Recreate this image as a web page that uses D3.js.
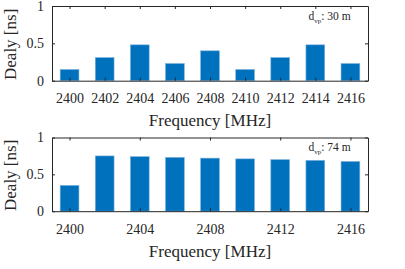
<!DOCTYPE html>
<html>
<head>
<meta charset="utf-8">
<script src="https://cdn.jsdelivr.net/npm/d3@7"></script>
<style>
  body { margin: 0; background: #fff; }
</style>
</head>
<body>
<svg id="chart" width="405" height="269"></svg>
<script>
let frequencies = [2400, 2402, 2404, 2406, 2408, 2410, 2412, 2414, 2416];
let delay_30m = [0.15, 0.31, 0.48, 0.23, 0.40, 0.15, 0.31, 0.48, 0.23];
let delay_74m = [0.35, 0.75, 0.74, 0.73, 0.72, 0.71, 0.70, 0.69, 0.675];
let ticks_top = [2400, 2402, 2404, 2406, 2408, 2410, 2412, 2414, 2416];
let ticks_bottom = [2400, 2404, 2408, 2412, 2416];
let y_ticks = [0, 0.5, 1];

let serif = "Liberation Serif";
let svg = d3.select("#chart")
  .attr("font-family", serif);

let box = { left: 52, right: 368 };

function style_axis(sel) {
  sel.attr("font-family", serif)
    .attr("font-size", 14);
  sel.selectAll("text").attr("fill", "#262626");
  sel.select("path").attr("stroke", "#262626");
  sel.selectAll("line").attr("stroke", "#262626");
}

function draw_panel(top, bottom, values, x_ticks, distance) {
  let x = d3.scaleLinear().domain([2399, 2417]).range([box.left, box.right]);
  let y = d3.scaleLinear().domain([0, 1]).range([bottom, top]);
  let bar_w = x(2401.07) - x(2400);

  let g = svg.append("g");

  g.selectAll("rect")
    .data(values)
    .enter()
    .append("rect")
    .attr("x", (d, i) => x(frequencies[i]) - bar_w / 2)
    .attr("y", d => y(d))
    .attr("width", bar_w)
    .attr("height", d => y(0) - y(d))
    .attr("fill", "#0072BD")
    .attr("stroke", "#7fb2de")
    .attr("stroke-width", 0.6);

  // axes, ticks inward like matlab
  g.append("g")
    .attr("transform", "translate(0," + bottom + ")")
    .call(d3.axisBottom(x).tickValues(x_ticks).tickSize(-3).tickPadding(12.7).tickSizeOuter(0).tickFormat(d3.format("d")))
    .call(style_axis);
  g.append("g")
    .attr("transform", "translate(0," + top + ")")
    .call(d3.axisTop(x).tickValues(x_ticks).tickSize(-3).tickSizeOuter(0).tickFormat(""))
    .call(style_axis);
  g.append("g")
    .attr("transform", "translate(" + box.left + ",0)")
    .call(d3.axisLeft(y).tickValues(y_ticks).tickSize(-3).tickPadding(8).tickSizeOuter(0).tickFormat(d3.format("")))
    .call(style_axis);
  g.append("g")
    .attr("transform", "translate(" + box.right + ",0)")
    .call(d3.axisRight(y).tickValues(y_ticks).tickSize(-3).tickSizeOuter(0).tickFormat(""))
    .call(style_axis);

  g.append("text")
    .attr("x", (box.left + box.right) / 2)
    .attr("y", bottom + 45.5)
    .attr("text-anchor", "middle")
    .attr("font-size", 17)
    .attr("fill", "#262626")
    .text("Frequency [MHz]");

  g.append("text")
    .attr("transform", "translate(15.5," + ((top + bottom) / 2 + 1) + ") rotate(-90)")
    .attr("text-anchor", "middle")
    .attr("font-size", 17)
    .attr("fill", "#262626")
    .text("Dealy [ns]");

  let note = g.append("text")
    .attr("x", 308.5)
    .attr("y", top + 13.5)
    .attr("font-size", 11.5)
    .attr("fill", "#262626");
  note.append("tspan").text("d");
  note.append("tspan").attr("dy", 3).attr("font-size", 7).text("vp");
  note.append("tspan").attr("dy", -3).text(": " + distance + " m");
}

draw_panel(6, 80.7, delay_30m, ticks_top, 30);
draw_panel(137.5, 211.2, delay_74m, ticks_bottom, 74);
</script>
</body>
</html>
